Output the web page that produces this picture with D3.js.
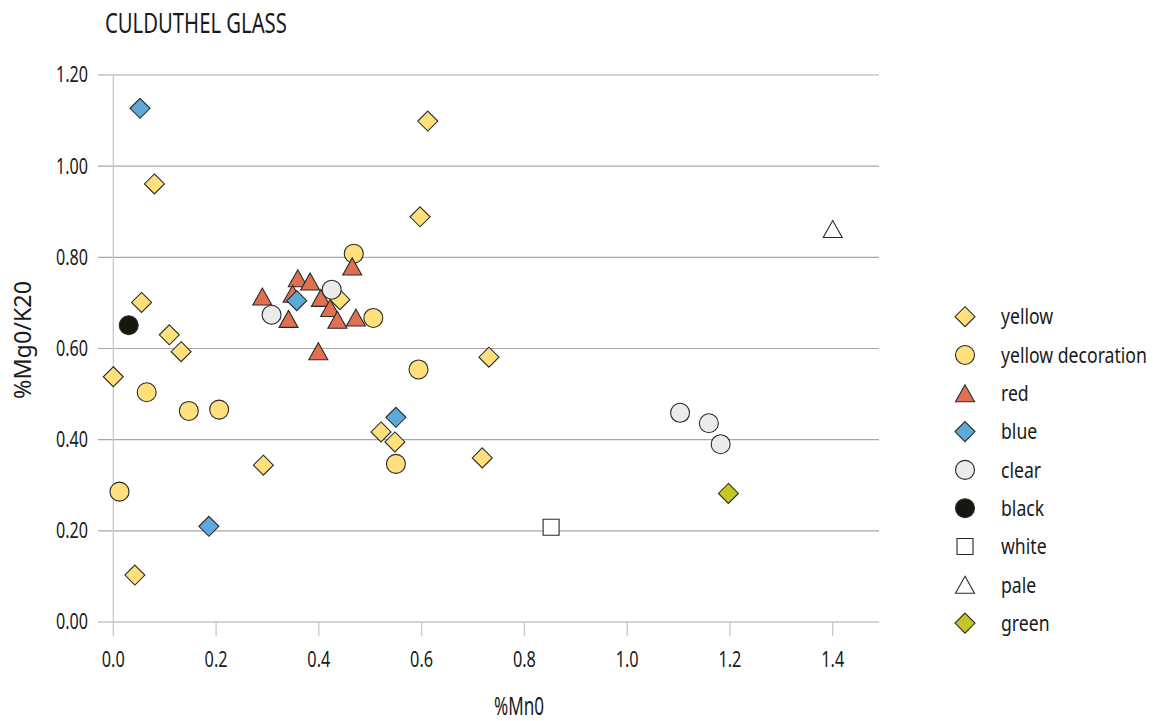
<!DOCTYPE html>
<html><head><meta charset="utf-8">
<script src="https://cdn.jsdelivr.net/npm/d3@7"></script>
<style>
body{margin:0;background:#fff;}
svg text{font-family:"Noto Sans","Open Sans",sans-serif;fill:#1a1a1a;}
</style></head>
<body><svg id="chart" width="1153" height="721"></svg>
<script>
const title = "CULDUTHEL GLASS";
const xTitle = "%Mn0";
const yTitle = "%Mg0/K20";
const xTicks = [0, 0.2, 0.4, 0.6, 0.8, 1.0, 1.2, 1.4];
const yTicks = [0, 0.2, 0.4, 0.6, 0.8, 1.0, 1.2];

const seriesNames = ["yellow","yellow decoration","red","blue","clear","black","white","pale","green"];

const yellowX = [0.612, 0.080, 0.597, 0.055, 0.109, 0.132, 0.000, 0.441, 0.731, 0.521, 0.548, 0.718, 0.292, 0.042];
const yellowY = [1.099, 0.961, 0.889, 0.701, 0.630, 0.593, 0.538, 0.707, 0.581, 0.417, 0.395, 0.360, 0.344, 0.103];
const yellowDecX = [0.468, 0.506, 0.594, 0.065, 0.147, 0.206, 0.550, 0.012];
const yellowDecY = [0.808, 0.667, 0.554, 0.504, 0.463, 0.466, 0.347, 0.286];
const redX = [0.465, 0.359, 0.383, 0.290, 0.349, 0.404, 0.422, 0.436, 0.472, 0.341, 0.399];
const redY = [0.780, 0.754, 0.747, 0.714, 0.720, 0.711, 0.689, 0.663, 0.668, 0.665, 0.594];
const blueX = [0.052, 0.357, 0.550, 0.186];
const blueY = [1.127, 0.705, 0.449, 0.210];
const clearX = [0.425, 0.308, 1.103, 1.159, 1.182];
const clearY = [0.729, 0.674, 0.459, 0.436, 0.390];
const blackX = [0.030];
const blackY = [0.651];
const whiteX = [0.852];
const whiteY = [0.208];
const paleX = [1.400];
const paleY = [0.862];
const greenX = [1.197];
const greenY = [0.282];

const seriesX = [yellowX, yellowDecX, redX, blueX, clearX, blackX, whiteX, paleX, greenX];
const seriesY = [yellowY, yellowDecY, redY, blueY, clearY, blackY, whiteY, paleY, greenY];
const shapes = ["diamond","circle","triangle","diamond","circle","circle","square","triangle","diamond"];
const fills = ["#FFE07C","#FFE07C","#E07052","#5DA9D8","#EBEBEB","#171712","#FFFFFF","#FFFFFF","#C4C527"];

const svg = d3.select("#chart");
const x = d3.scaleLinear().domain([0, 1.4]).range([113.3, 832.7]);
const y = d3.scaleLinear().domain([0, 1.2]).range([622, 75]);
const plotRight = 879;

function shapePath(shape){
  if(shape==="diamond"){ const r=10; return `M0,${-r}L${r},0L0,${r}L${-r},0Z`; }
  if(shape==="circle"){ const r=9.5; return d3.arc()({innerRadius:0,outerRadius:r,startAngle:0,endAngle:2*Math.PI}); }
  if(shape==="triangle"){ const w=9.5,h=8.5; return `M0,${-h}L${w},${h}L${-w},${h}Z`; }
  if(shape==="square"){ const s=8; return `M${-s},${-s}H${s}V${s}H${-s}Z`; }
}
// Condensed text: each label is a text at origin inside a positioned group, squeezed horizontally.
function label(parent, px, py, str, size, anchor, rot){
  const g = parent.append("g").attr("data-x",px).attr("data-y",py).attr("data-rot",rot||0);
  g.append("text").attr("font-size",size).attr("text-anchor",anchor||"start").attr("dy","0.35em").text(str);
  return g;
}
function condense(groups, refIndex, target){
  const nodes = groups.map(g=>g.select("text").node());
  const f = target / nodes[refIndex].getComputedTextLength();
  groups.forEach(g=>{
    g.attr("transform",`translate(${g.attr("data-x")},${g.attr("data-y")}) rotate(${g.attr("data-rot")}) scale(${f},1)`);
  });
}

// title
condense([label(svg,105,24,title,27,"start")],0,182);

// horizontal gridlines
svg.append("g").selectAll("line").data(yTicks).join("line")
  .attr("x1",98).attr("x2",plotRight)
  .attr("y1",d=>y(d)).attr("y2",d=>y(d))
  .attr("stroke","#a8a8a8").attr("stroke-width",1.2);

// vertical axis line at x=0
svg.append("line").attr("x1",x(0)).attr("x2",x(0)).attr("y1",y(1.2)).attr("y2",636)
  .attr("stroke","#c8c8c8").attr("stroke-width",1.3);

// x tick marks
svg.append("g").selectAll("line").data(xTicks.slice(1)).join("line")
  .attr("x1",d=>x(d)).attr("x2",d=>x(d)).attr("y1",y(0)).attr("y2",636)
  .attr("stroke","#c8c8c8").attr("stroke-width",1.3);

// tick labels
const gy = svg.append("g");
condense(yTicks.map(t=>label(gy,88,y(t),d3.format(".2f")(t),21,"end")),6,32);
const gx = svg.append("g");
condense(xTicks.map(t=>label(gx,x(t),660,d3.format(".1f")(t),21,"middle")),0,23);

// axis titles
condense([label(svg,519,706,xTitle,25,"middle")],0,50);
condense([label(svg,23,340,yTitle,24,"middle",-90)],0,118);

// points
const gPts = svg.append("g");
seriesNames.forEach((name,i)=>{
  const pts = seriesX[i].map((v,j)=>({x:v,y:seriesY[i][j]}));
  gPts.append("g").selectAll("path").data(pts).join("path")
    .attr("d",shapePath(shapes[i]))
    .attr("transform",d=>`translate(${x(d.x)},${y(d.y)})`)
    .attr("fill",fills[i]).attr("stroke","#2a2a2a").attr("stroke-width",1.1);
});

// legend
const leg = svg.append("g");
const legLabels = [];
seriesNames.forEach((name,i)=>{
  const cy = 316.7 + i*38.3;
  leg.append("path").attr("d",shapePath(shapes[i])).attr("transform",`translate(965,${cy})`)
    .attr("fill",fills[i]).attr("stroke","#2a2a2a").attr("stroke-width",1.1);
  legLabels.push(label(leg,1001,cy,name,22,"start"));
});
condense(legLabels,1,146);
</script></body></html>
